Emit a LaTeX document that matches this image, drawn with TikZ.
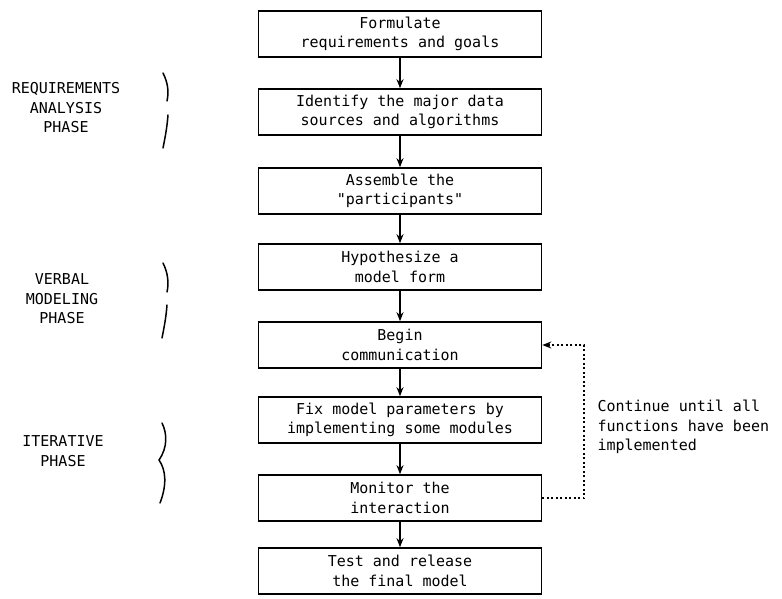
\documentclass[tikz,border=0pt]{standalone}
\usepackage{fontspec}
\newfontfamily\typewr{DejaVu Sans Mono}
\usetikzlibrary{arrows.meta}

\tikzset{
	stepbox/.style={draw, line width=1.6pt, minimum width=283pt, minimum height=46pt, align=center, inner sep=2pt},
	flow/.style={line width=1.6pt, -{Stealth[length=9pt,width=7pt]}},
	loopback/.style={line width=2pt, dash pattern=on 2pt off 2.5pt, -{Stealth[length=9pt,width=7pt]}},
	phase/.style={align=center},
	brace/.style={line width=1.5pt, line cap=round}
}

\begin{document}
\begin{tikzpicture}[x=1pt, y=-1pt, font=\typewr\fontsize{15}{19.5}\selectfont]
				\useasboundingbox (0,0) rectangle (782,598);
				\node[stepbox] (formulate) at (400,34) {Formulate\\requirements and goals};
				\node[stepbox] (identify) at (400,112) {Identify the major data\\sources and algorithms};
				\node[stepbox] (assemble) at (400,191) {Assemble the\\"participants"};
				\node[stepbox] (hypothesize) at (400,267) {Hypothesize a\\model form};
				\node[stepbox] (begin) at (400,345) {Begin\\communication};
				\node[stepbox] (fix) at (400,420) {Fix model parameters by\\implementing some modules};
				\node[stepbox] (monitor) at (400,498) {Monitor the\\interaction};
				\node[stepbox] (release) at (400,571) {Test and release\\the final model};
				\foreach \a/\b in {formulate/identify, identify/assemble, assemble/hypothesize, hypothesize/begin, begin/fix, fix/monitor, monitor/release} {
					\draw[flow] (\a) -- (\b);
				}
				\draw[loopback] (monitor.east) -- ++(42,0) |- (begin.east);
				\node[anchor=west, align=left] (note) at (594,427) {Continue until all\\functions have been\\implemented};
				\node[phase] (reqphase) at (66,108) {REQUIREMENTS\\ANALYSIS\\PHASE};
				\node[phase] (verbphase) at (62,299) {VERBAL\\MODELING\\PHASE};
				\node[phase] (iterphase) at (63,451) {ITERATIVE\\PHASE};
				\draw[brace] (163,73) .. controls (168,83) and (169,92) .. (167,101);
				\draw[brace] (168,115) .. controls (167,128) and (165,138) .. (163,148);
				\draw[brace] (163,263) .. controls (168,273) and (169,283) .. (167,292);
				\draw[brace] (167,305) .. controls (166,318) and (164,328) .. (162,338);
				\draw[brace] (162,423) .. controls (167,433) and (168,447) .. (159,460) .. controls (166,470) and (167,485) .. (160,503);
			\end{tikzpicture}
\end{document}
